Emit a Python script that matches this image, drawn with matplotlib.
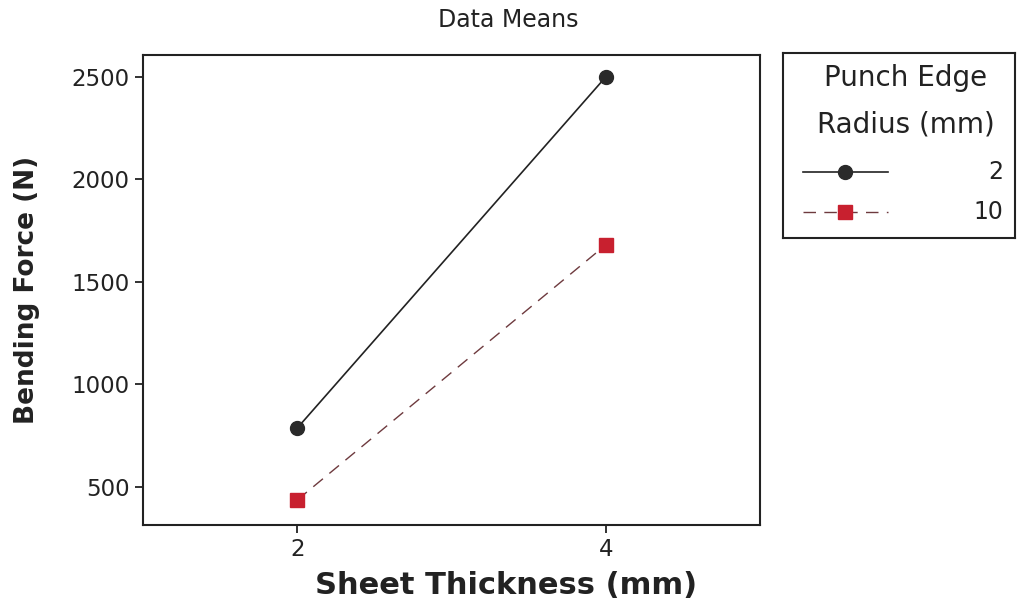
import matplotlib
matplotlib.use("Agg")
import matplotlib.pyplot as plt

# Mean bending force by sheet thickness for each punch edge radius
thickness = [2, 4]
radius_labels = ["2", "10"]
force_r2 = [786, 2500]
force_r10 = [435, 1680]
y_ticks = [500, 1000, 1500, 2000, 2500]
x_ticks = [2, 4]

plt.rcParams["font.family"] = ["DejaVu Sans"]
INK = "#222222"

fig = plt.figure(figsize=(10.17, 6.06), dpi=100)
ax = fig.add_axes([0.1406, 0.1337, 0.6067, 0.7755])

style_r2 = dict(color=INK, lw=1.2, marker="o", markersize=10,
                markerfacecolor="#2a2a2a", markeredgecolor="#2a2a2a")
style_r10 = dict(color="#6e3a3e", lw=1.0, ls=(0, (9, 6)), marker="s",
                 markersize=9.5, markerfacecolor="#c8202f",
                 markeredgecolor="#c8202f")

ax.plot(thickness, force_r2, **style_r2)
ax.plot(thickness, force_r10, **style_r10)

ax.set_xlim(1, 5)
ax.set_ylim(313, 2607)
ax.set_xticks(x_ticks)
ax.set_yticks(y_ticks)
ax.tick_params(axis="both", labelsize=16.5, length=6, width=1.3, colors=INK)
for s in ax.spines.values():
    s.set_linewidth(1.5)
    s.set_color(INK)

ax.set_xlabel("Sheet Thickness (mm)", fontsize=22, fontweight="bold", color=INK)
ax.xaxis.set_label_coords(0.588, -0.128)
ax.xaxis.label.set_va("center")
ax.set_ylabel("Bending Force (N)", fontsize=19, fontweight="bold", color=INK)
ax.yaxis.set_label_coords(-0.188, 0.5)
ax.yaxis.label.set_va("center")

fig.text(0.5, 1 - 20 / 606, "Data Means", ha="center", va="center",
         fontsize=17, color=INK)

# Legend box with centred two-line title and right-aligned labels
lg = fig.add_axes([783 / 1017, 1 - 238 / 606, 232 / 1017, 185 / 606])
lg.set_xlim(0, 1)
lg.set_ylim(0, 1)
lg.set_xticks([])
lg.set_yticks([])
for s in lg.spines.values():
    s.set_linewidth(1.5)
    s.set_color(INK)
lg.text(0.53, 0.865, "Punch Edge", ha="center", va="center", fontsize=20,
        color=INK)
lg.text(0.53, 0.616, "Radius (mm)", ha="center", va="center", fontsize=20,
        color=INK)
for yy, st, lab in [(0.357, style_r2, radius_labels[0]),
                    (0.141, style_r10, radius_labels[1])]:
    lg.plot([0.086, 0.453], [yy, yy], **{k: v for k, v in st.items()
                                         if not k.startswith("marker")})
    lg.plot([0.267], [yy], ls="none", **{k: v for k, v in st.items()
                                        if k.startswith("marker")})
    lg.text(0.948, yy, lab, ha="right", va="center", fontsize=17, color=INK)

fig.savefig("out.png", dpi=100)
